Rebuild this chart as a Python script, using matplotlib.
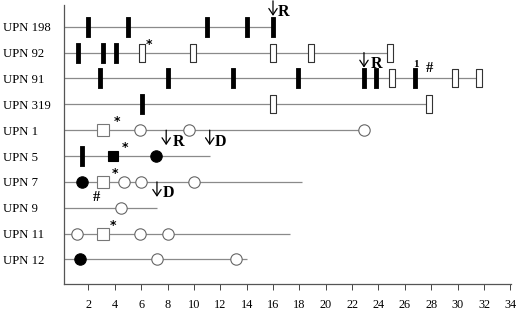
import matplotlib
matplotlib.use("Agg")
import matplotlib.pyplot as plt

plt.rcParams['font.family'] = ['Liberation Serif', 'DejaVu Serif']

patients = ['UPN 198', 'UPN 92', 'UPN 91', 'UPN 319', 'UPN 1',
            'UPN 5', 'UPN 7', 'UPN 9', 'UPN 11', 'UPN 12']
# months of follow-up (end of each line)
line_end = [16, 25, 31.6, 27.8, 23.3, 11.2, 18.2, 7.2, 17.3, 14.0]

# events per patient (months)
black_bar_x = [[2, 5, 11, 14, 16], [1.2, 3.1, 4.1], [2.9, 8, 13, 17.9, 22.9, 23.8, 26.8],
               [6.1], [], [1.5], [], [], [], []]
open_bar_x = [[], [6.1, 9.9, 16, 18.9, 24.9], [25.0, 29.8, 31.6], [16, 27.8],
              [], [], [], [], [], []]
open_circle_x = [[], [], [], [], [5.9, 9.6, 22.9], [], [4.7, 6.0, 10.0], [4.5],
                 [1.1, 5.9, 8.0], [7.2, 13.2]]
black_circle_x = [[], [], [], [], [], [7.1], [1.5], [], [], [1.4]]
open_square_x = [[], [], [], [], [3.1], [], [3.1], [], [3.1], []]
black_square_x = [[], [], [], [], [], [3.9], [], [], [], []]

# annotations
star_x = [6.6, 4.2, 4.8, 4.0, 3.9]
star_row = [1, 4, 5, 6, 8]
hash_x = [27.9, 2.6]
hash_row = [2, 7]
arrow_x = [16, 22.9, 7.9, 11.2, 7.2]
arrow_row = [0, 2, 5, 5, 7]
arrow_label = ['R', 'R', 'R', 'D', 'D']
arrow_label_x = [16.8, 23.85, 8.85, 12.05, 8.05]
one_x = [26.8]
one_row = [2]

xticks = list(range(2, 35, 2))

fig = plt.figure(figsize=(5.2, 3.12), dpi=100)
ax = fig.add_axes([64/520, 1-284/312, (511-64)/520, (284-5)/312])
ax.set_xlim(0.15, 34.05)
ax.set_ylim(9.95, -0.84)

rows = range(len(patients))
for i in rows:
    ax.plot([0.15, line_end[i]], [i, i], color='#8a8a8a', lw=0.9, zorder=1, solid_capstyle='butt')

black_bar_marker = [(-2, -9.5), (2, -9.5), (2, 9.5), (-2, 9.5), (-2, -9.5)]
open_bar_marker = [(-2.5, -9), (2.5, -9), (2.5, 9), (-2.5, 9), (-2.5, -9)]
for i in rows:
    if black_bar_x[i]:
        ax.plot(black_bar_x[i], [i]*len(black_bar_x[i]), ls='none', marker=black_bar_marker,
                ms=14, mfc='black', mec='black', mew=0.6, zorder=3)
    if open_bar_x[i]:
        ax.plot(open_bar_x[i], [i]*len(open_bar_x[i]), ls='none', marker=open_bar_marker,
                ms=13.5, mfc='white', mec='#333333', mew=0.8, zorder=3)
    if open_circle_x[i]:
        ax.plot(open_circle_x[i], [i]*len(open_circle_x[i]), ls='none', marker='o',
                ms=8.2, mfc='white', mec='#666666', mew=0.8, zorder=3)
    if black_circle_x[i]:
        ax.plot(black_circle_x[i], [i]*len(black_circle_x[i]), ls='none', marker='o',
                ms=8.2, mfc='black', mec='black', mew=0.8, zorder=3)
    if open_square_x[i]:
        ax.plot(open_square_x[i], [i]*len(open_square_x[i]), ls='none', marker='s',
                ms=8.2, mfc='white', mec='#777777', mew=0.8, zorder=3)
    if black_square_x[i]:
        ax.plot(black_square_x[i], [i]*len(black_square_x[i]), ls='none', marker='s',
                ms=7.8, mfc='black', mec='black', mew=0.8, zorder=3)

for x, r in zip(star_x, star_row):
    ax.text(x, r - 0.33, '*', fontsize=9, fontweight='bold', ha='center', va='center',
            family='DejaVu Sans')
for x, r in zip(hash_x, hash_row):
    ax.text(x, r - 0.4, '#', fontsize=10.5, fontweight='bold', ha='center', va='center')
for x, r in zip(one_x, one_row):
    ax.text(x, r - 0.52, '1', fontsize=8, fontweight='bold', ha='center', va='center')
for x, r, lab, lx in zip(arrow_x, arrow_row, arrow_label, arrow_label_x):
    ax.annotate('', xy=(x, r - 0.42), xytext=(x, r - 1.0),
                arrowprops=dict(arrowstyle='->,head_length=0.45,head_width=0.3',
                                color='black', lw=0.9, shrinkA=0, shrinkB=0),
                annotation_clip=False)
    ax.text(lx, r - 0.55, lab, fontsize=11.5, fontweight='bold', ha='center', va='center')

ax.set_yticks(list(rows))
ax.set_yticklabels(patients, fontsize=9.2)
ax.tick_params(axis='y', length=0, pad=(64 - 3) * 72 / 100)
for lab in ax.get_yticklabels():
    lab.set_ha('left')

ax.set_xticks(xticks)
ax.set_xticklabels([str(t) for t in xticks], fontsize=8.8)
ax.tick_params(axis='x', length=4.3, width=0.7, pad=6.5, direction='out', color='#444444')

for s in ['top', 'right']:
    ax.spines[s].set_visible(False)
for s in ['left', 'bottom']:
    ax.spines[s].set_color('#555555')
    ax.spines[s].set_linewidth(0.9)

fig.savefig('out.png', dpi=100)
